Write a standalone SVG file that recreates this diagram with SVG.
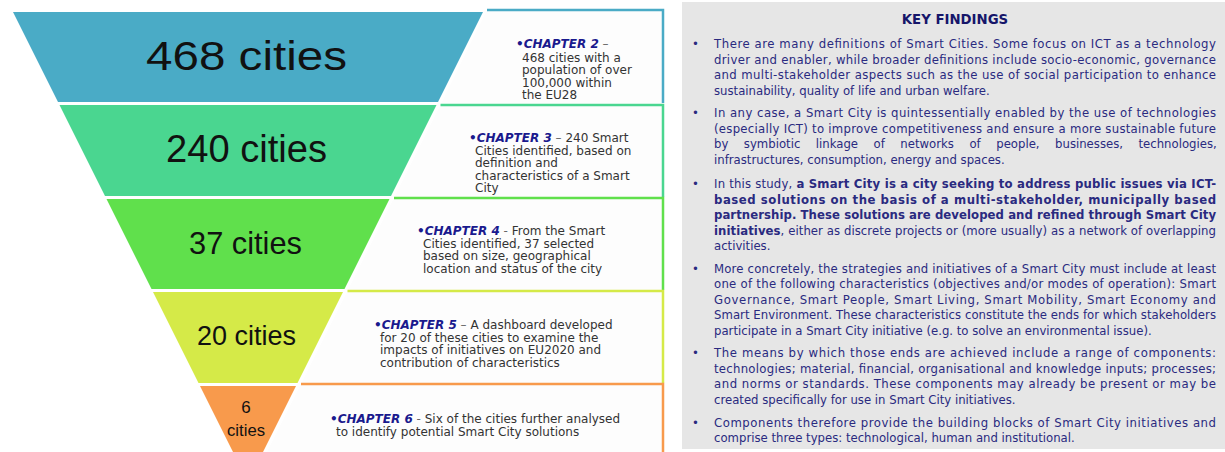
<svg xmlns="http://www.w3.org/2000/svg" width="1225" height="452" viewBox="0 0 1225 452">
<style>
.big{font-family:"Liberation Sans",Arial,sans-serif;fill:#111;}
.bt{font-family:"DejaVu Sans",Verdana,sans-serif;font-size:12px;fill:#333;}
.ch{font-weight:bold;font-style:italic;fill:#1a1a8e;}
.sep{fill:#666;}
.bx{fill:none;stroke-width:2.5;}
.kf{font-family:"DejaVu Sans",Verdana,sans-serif;font-size:11.7px;fill:#2a2a80;}
.kt{font-family:"DejaVu Sans",Verdana,sans-serif;font-size:13.3px;font-weight:bold;fill:#16166a;}
.b{font-weight:bold;}
</style>
<rect x="0" y="0" width="1225" height="452" fill="#ffffff"/>

<g id="level1">
<polygon points="13,12 483,12 438,102 58,102" fill="#4aabc6"/>
<polygon points="487,10 663,10 663,103 441.5,103" fill="#fdfdfd"/>
<polyline class="bx" points="487,10 663,10 663,103" stroke="#4aabc6"/>
<text class="big" x="146" y="70" font-size="40" textLength="201" lengthAdjust="spacingAndGlyphs">468 cities</text>
<text class="bt" x="516" y="48"><tspan class="ch">•CHAPTER 2</tspan><tspan class="sep"> –</tspan></text>
<text class="bt" x="522" y="61.7">468 cities with a</text>
<text class="bt" x="522" y="74.2">population of over</text>
<text class="bt" x="522" y="86.7">100,000 within</text>
<text class="bt" x="522" y="99.2">the EU28</text>
</g>

<g id="level2">
<polygon points="59.5,105 436.5,105 391,196 105,196" fill="#4ad690"/>
<polygon points="440.5,105 663,105 663,197 394.5,197" fill="#fdfdfd"/>
<polyline class="bx" points="440.5,105 663,105 663,197" stroke="#4ad690"/>
<text class="big" x="166" y="162" font-size="38" textLength="161" lengthAdjust="spacingAndGlyphs">240 cities</text>
<text class="bt" x="469" y="142"><tspan class="ch">•CHAPTER 3</tspan><tspan class="sep"> –</tspan> 240 Smart</text>
<text class="bt" x="475" y="154.5">Cities identified, based on</text>
<text class="bt" x="475" y="167">definition and</text>
<text class="bt" x="475" y="179.5">characteristics of a Smart</text>
<text class="bt" x="475" y="192">City</text>
</g>

<g id="level3">
<polygon points="106.5,199 389.5,199 344.5,289 151.5,289" fill="#60e04c"/>
<polygon points="394,198 663,198 663,290 348,290" fill="#fdfdfd"/>
<polyline class="bx" points="394,198 663,198 663,290" stroke="#60e04c"/>
<text class="big" x="189" y="254" font-size="30.5" textLength="113" lengthAdjust="spacingAndGlyphs">37 cities</text>
<text class="bt" x="417" y="235"><tspan class="ch">•CHAPTER 4</tspan><tspan class="sep"> -</tspan> From the Smart</text>
<text class="bt" x="423" y="247.5">Cities identified, 37 selected</text>
<text class="bt" x="423" y="260">based on size, geographical</text>
<text class="bt" x="423" y="272.5">location and status of the city</text>
</g>

<g id="level4">
<polygon points="153,292 343,292 297.5,383 198.5,383" fill="#d5ea48"/>
<polygon points="347.5,291 663,291 663,383 301.5,383" fill="#fdfdfd"/>
<polyline class="bx" points="347.5,291 663,291 663,383" stroke="#d5ea48"/>
<text class="big" x="197" y="345" font-size="27.3" textLength="99" lengthAdjust="spacingAndGlyphs">20 cities</text>
<text class="bt" x="374" y="329"><tspan class="ch">•CHAPTER 5</tspan><tspan class="sep"> –</tspan> A dashboard developed</text>
<text class="bt" x="380" y="341.5">for 20 of these cities to examine the</text>
<text class="bt" x="380" y="354">impacts of initiatives on EU2020 and</text>
<text class="bt" x="380" y="366.5">contribution of characteristics</text>
</g>

<g id="level5">
<polygon points="200,386 296,386 263,452 233,452" fill="#f89a4c"/>
<polygon points="301,384 663,384 663,452 267,452" fill="#fdfdfd"/>
<polyline class="bx" points="301,384 663,384 663,453" stroke="#f89a4c"/>
<text class="big" x="246" y="413" font-size="17" text-anchor="middle">6</text>
<text class="big" x="227" y="436" font-size="17" textLength="38" lengthAdjust="spacingAndGlyphs">cities</text>
<text class="bt" x="330" y="423"><tspan class="ch">•CHAPTER 6</tspan><tspan class="sep"> -</tspan> Six of the cities further analysed</text>
<text class="bt" x="336" y="435.5">to identify potential Smart City solutions</text>
</g>

<g id="key-findings">
<rect x="682" y="2" width="543" height="447" fill="#e6e6e6"/>
<text class="kt" x="955" y="24" text-anchor="middle">KEY FINDINGS</text>

<g id="finding1">
<text class="kf" x="692" y="48">•</text>
<text class="kf" x="714" y="48" textLength="502" lengthAdjust="spacing">There are many definitions of Smart Cities. Some focus on ICT as a technology</text>
<text class="kf" x="714" y="63.5" textLength="502" lengthAdjust="spacing">driver and enabler, while broader definitions include socio-economic, governance</text>
<text class="kf" x="714" y="79" textLength="502" lengthAdjust="spacing">and multi-stakeholder aspects such as the use of social participation to enhance</text>
<text class="kf" x="714" y="94.5">sustainability, quality of life and urban welfare.</text>
</g>

<g id="finding2">
<text class="kf" x="692" y="117">•</text>
<text class="kf" x="714" y="117" textLength="502" lengthAdjust="spacing">In any case, a Smart City is quintessentially enabled by the use of technologies</text>
<text class="kf" x="714" y="132.5" textLength="502" lengthAdjust="spacing">(especially ICT) to improve competitiveness and ensure a more sustainable future</text>
<text class="kf" x="714" y="148" word-spacing="11.8">by symbiotic linkage of networks of people, businesses, technologies,</text>
<text class="kf" x="714" y="163.5">infrastructures, consumption, energy and spaces.</text>
</g>

<g id="finding3">
<text class="kf" x="692" y="188">•</text>
<text class="kf" x="714" y="188" textLength="502" lengthAdjust="spacing">In this study, <tspan class="b">a Smart City is a city seeking to address public issues via ICT-</tspan></text>
<text class="kf b" x="714" y="203.5" textLength="502" lengthAdjust="spacing">based solutions on the basis of a multi-stakeholder, municipally based</text>
<text class="kf b" x="714" y="219" textLength="502" lengthAdjust="spacing">partnership. These solutions are developed and refined through Smart City</text>
<text class="kf" x="714" y="234.5" textLength="502" lengthAdjust="spacing"><tspan class="b">initiatives</tspan>, either as discrete projects or (more usually) as a network of overlapping</text>
<text class="kf" x="714" y="250">activities.</text>
</g>

<g id="finding4">
<text class="kf" x="692" y="272.5">•</text>
<text class="kf" x="714" y="272.5" textLength="502" lengthAdjust="spacing">More concretely, the strategies and initiatives of a Smart City must include at least</text>
<text class="kf" x="714" y="288" textLength="502" lengthAdjust="spacing">one of the following characteristics (objectives and/or modes of operation): Smart</text>
<text class="kf" x="714" y="303.5" textLength="502" lengthAdjust="spacing">Governance, Smart People, Smart Living, Smart Mobility, Smart Economy and</text>
<text class="kf" x="714" y="319" textLength="502" lengthAdjust="spacing">Smart Environment. These characteristics constitute the ends for which stakeholders</text>
<text class="kf" x="714" y="334.5">participate in a Smart City initiative (e.g. to solve an environmental issue).</text>
</g>

<g id="finding5">
<text class="kf" x="692" y="357">•</text>
<text class="kf" x="714" y="357" textLength="502" lengthAdjust="spacing">The means by which those ends are achieved include a range of components:</text>
<text class="kf" x="714" y="372.5" textLength="502" lengthAdjust="spacing">technologies; material, financial, organisational and knowledge inputs; processes;</text>
<text class="kf" x="714" y="388" textLength="502" lengthAdjust="spacing">and norms or standards. These components may already be present or may be</text>
<text class="kf" x="714" y="403.5">created specifically for use in Smart City initiatives.</text>
</g>

<g id="finding6">
<text class="kf" x="692" y="426.5">•</text>
<text class="kf" x="714" y="426.5" textLength="502" lengthAdjust="spacing">Components therefore provide the building blocks of Smart City initiatives and</text>
<text class="kf" x="714" y="442">comprise three types: technological, human and institutional.</text>
</g>
</g>

<g id="connectors"></g>
</svg>
